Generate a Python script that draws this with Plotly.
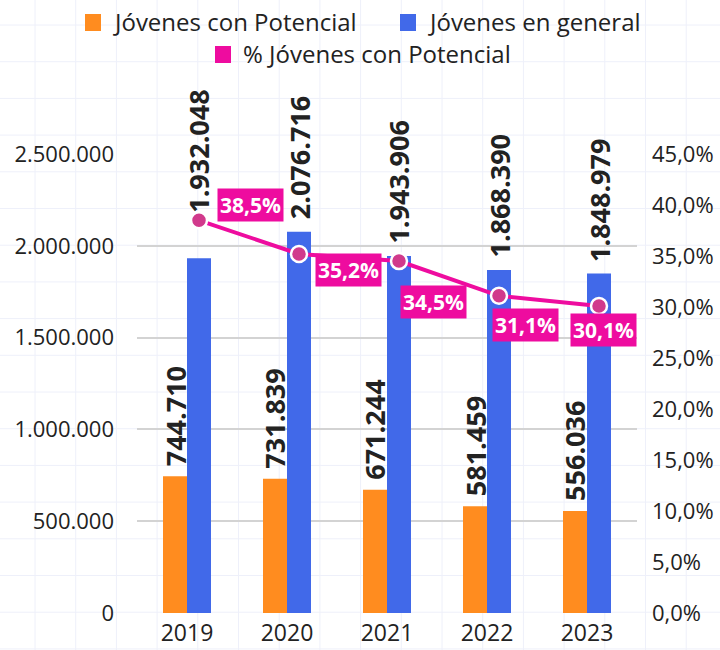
import plotly.graph_objects as go

years = ["2019", "2020", "2021", "2022", "2023"]
jovenes_potencial = [744710, 731839, 671244, 581459, 556036]
jovenes_general = [1932048, 2076716, 1943906, 1868390, 1848979]
pct_potencial = [38.5, 35.2, 34.5, 31.1, 30.1]

left_ticks = [0, 500000, 1000000, 1500000, 2000000, 2500000]
right_ticks = [0, 5, 10, 15, 20, 25, 30, 35, 40, 45]

legend_names = ["Jóvenes con Potencial", "Jóvenes en general", "% Jóvenes con Potencial"]

ORANGE = "#FF8C1F"
BLUE = "#4169E9"
MAGENTA = "#EE0C9F"
MARKER = "#D13A8C"
TEXT = "#222222"
FONT = "Open Sans"

# plot area in pixels
L, R, T, B = 137, 637, 154, 613
W, H = 720, 650

def pxx(p):
    return (p - L) / (R - L)

def pxy(p):
    return (B - p) / (B - T)

def fmt_int(v):
    return f"{v:,}".replace(",", ".")

def fmt_pct(v):
    return f"{v:.1f}".replace(".", ",") + "%"

idx = list(range(len(years)))
BAR_OFF = 0.12
orange_x = [i - BAR_OFF for i in idx]
blue_x = [i + BAR_OFF for i in idx]

fig = go.Figure()
fig.add_trace(go.Bar(
    x=idx, y=jovenes_potencial, name=legend_names[0],
    marker=dict(color=ORANGE, line=dict(width=0)),
))
fig.add_trace(go.Bar(
    x=idx, y=jovenes_general, name=legend_names[1],
    marker=dict(color=BLUE, line=dict(width=0)),
))
fig.add_trace(go.Scatter(
    x=blue_x, y=pct_potencial, name=legend_names[2],
    yaxis="y2", mode="lines+markers",
    line=dict(color=MAGENTA, width=4),
    marker=dict(color=MARKER, size=16, line=dict(color="white", width=2.5)),
    cliponaxis=False,
))

annotations = []
label_font = dict(family=FONT, size=27, color=TEXT, weight="bold")
# value labels above bars (rotated)
for x, v in zip(orange_x, jovenes_potencial):
    annotations.append(dict(x=x, y=v, xref="x", yref="y", yshift=8,
                            text=fmt_int(v), textangle=-90, showarrow=False,
                            xanchor="center", yanchor="bottom", font=label_font))
blue_gaps = [43, 10, 10, 10, 9]
for x, v, g in zip(blue_x, jovenes_general, blue_gaps):
    annotations.append(dict(x=x, y=v, xref="x", yref="y", yshift=g,
                            text=fmt_int(v), textangle=-90, showarrow=False,
                            xanchor="center", yanchor="bottom", font=label_font))

# percentage labels
shifts = [(51, 15), (49, -16), (34, -41), (26, -29), (4, -24)]
for x, v, (dx, dy) in zip(blue_x, pct_potencial, shifts):
    annotations.append(dict(
        x=x, y=v, xref="x", yref="y2", xshift=dx, yshift=dy,
        text=fmt_pct(v), showarrow=False,
        font=dict(family=FONT, size=21, color="white", weight="bold"),
        bgcolor=MAGENTA, borderpad=2,
    ))

shapes = []
# manual legend
legend_items = [
    (legend_names[0], ORANGE, 85, 22),
    (legend_names[1], BLUE, 400, 22),
    (legend_names[2], MAGENTA, 215, 54),
]
for name, col, x0, yc in legend_items:
    shapes.append(dict(type="rect", xref="paper", yref="paper",
                       x0=pxx(x0), x1=pxx(x0 + 16), y0=pxy(yc + 9), y1=pxy(yc - 8),
                       fillcolor=col, line=dict(width=0)))
    annotations.append(dict(x=pxx(x0 + 26), y=pxy(yc), xref="paper", yref="paper",
                            xanchor="left", yanchor="middle", text=name, showarrow=False,
                            font=dict(family=FONT, size=24, color=TEXT)))

# background graph-paper grid
px = 35 - 40.7
while px < W + 5:
    shapes.append(dict(type="line", xref="paper", yref="paper", x0=pxx(px), x1=pxx(px),
                       y0=pxy(H + 5), y1=pxy(-5),
                       line=dict(color="#EEF0FA", width=1), layer="below"))
    px += 40.7
py = 61.7 - 2 * 36.7
while py < H + 5:
    shapes.append(dict(type="line", xref="paper", yref="paper", y0=pxy(py), y1=pxy(py),
                       x0=pxx(-5), x1=pxx(W + 5),
                       line=dict(color="#EEF0FA", width=1), layer="below"))
    py += 36.7

fig.update_layout(
    width=W, height=H,
    margin=dict(l=L, r=W - R, t=T, b=H - B, autoexpand=False),
    paper_bgcolor="white", plot_bgcolor="rgba(0,0,0,0)",
    separators=",.",
    barmode="group", bargap=0.52, bargroupgap=0,
    font=dict(family=FONT, color=TEXT),
    shapes=shapes, annotations=annotations,
    showlegend=False,
    xaxis=dict(range=[-0.5, 4.5], tickvals=idx, ticktext=years,
               showgrid=False, showline=False, zeroline=False, ticks="",
               tickfont=dict(size=23, color=TEXT), automargin=False,
               ticklabelstandoff=4),
    yaxis=dict(range=[0, 2500000], tickvals=left_ticks,
               ticktext=[fmt_int(v) for v in left_ticks],
               showgrid=True, gridcolor="#D3D3D3", gridwidth=1.5,
               zeroline=False, ticks="", automargin=False, ticklabelstandoff=22,
               tickfont=dict(size=22, color=TEXT)),
    yaxis2=dict(range=[0, 45], overlaying="y", side="right",
                tickvals=right_ticks, ticktext=[fmt_pct(v) for v in right_ticks],
                showgrid=False, zeroline=False,
                ticks="", automargin=False, ticklabelstandoff=14,
                tickfont=dict(size=22, color=TEXT)),
)

fig.write_html("out.html", config={"displayModeBar": False},
               post_script="document.body.style.margin='0px';document.body.style.overflow='hidden';")
